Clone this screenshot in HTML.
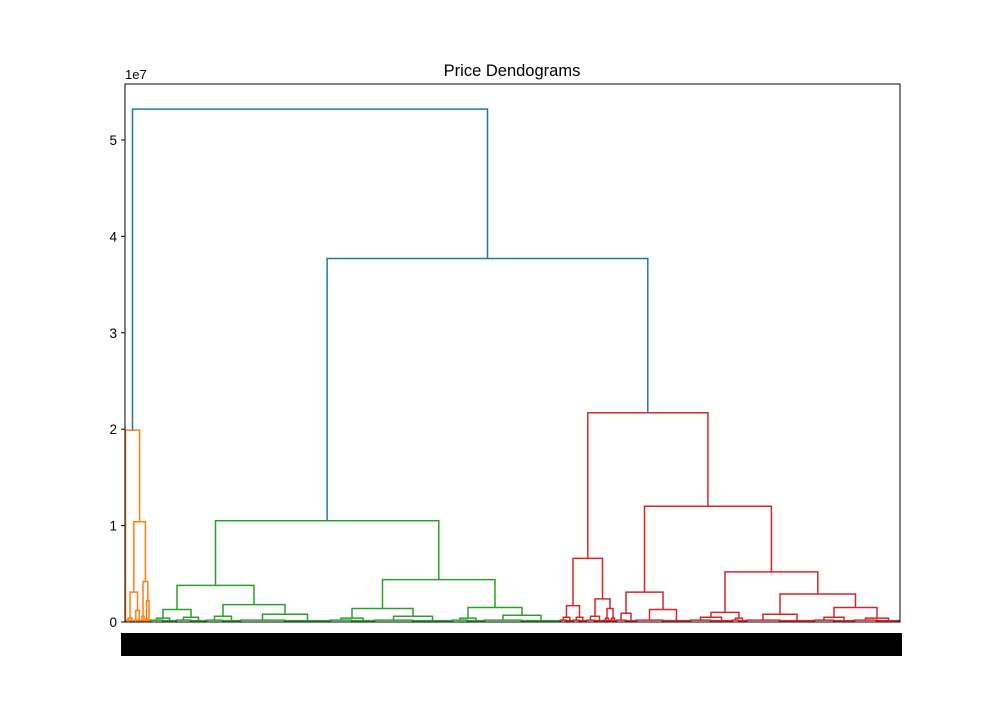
<!DOCTYPE html>
<html><head><meta charset="utf-8"><style>
body{margin:0;background:#fff}
svg text{font-family:"Liberation Sans",sans-serif}
</style></head><body>
<svg id="chart" width="1000" height="700" xmlns="http://www.w3.org/2000/svg">
<rect width="1000" height="700" fill="#fff"/>
<text x="512" y="76" text-anchor="middle" font-size="16.5">Price Dendograms</text>
<text x="125" y="79" font-size="13">1e7</text>
<g id="links"></g>
<rect x="121" y="633" width="781" height="23" fill="#000"/>
<g id="axes"></g>
</svg>
<script>
// Tree data: [height(1e7), left, right] for merges; [height, leafCount] for small leaf groups
const orangeTree=[1.99,[0.0,1],[1.04,[0.31,[0.04,8],[0.12,7]],[0.42,[0.06,4],[0.22,[0.03,3],[0.02,2]]]]];
const greenTree=[1.05,
 [0.38,[0.13,[0.04,26],[0.05,30]],[0.18,[0.06,34],[0.08,90]]],
 [0.44,[0.14,[0.04,44],[0.06,78]],[0.15,[0.04,32],[0.07,76]]]];
const redTree=[2.17,
 [0.66,[0.17,[0.05,13],[0.05,13]],[0.24,[0.06,18],[0.14,[0.04,6],[0.04,6]]]],
 [1.2,[0.31,[0.09,20],[0.13,54]],
  [0.52,[0.10,[0.05,42],[0.04,14]],[0.29,[0.08,68],[0.15,[0.05,40],[0.04,46]]]]]];
const midHeight=3.77, rootHeight=5.32;
const yTicks=[0,1,2,3,4,5];
const clusterColors=['#ff7f0e','#2ca02c','#d62728'];

const NS='http://www.w3.org/2000/svg';
const X0=125,X1=900,Y0=622,YTOP=84,HMAX=5.58;
const totalLeaves=775;
const xs=i=>X0+i*(X1-X0)/totalLeaves;
const ys=h=>Y0-(Y0-YTOP)*h/HMAX;
const links=document.getElementById('links');
function seg(pts,color,name){
  const p=document.createElementNS(NS,'polyline');
  p.setAttribute('points',pts.map(q=>q[0].toFixed(1)+','+q[1].toFixed(1)).join(' '));
  p.setAttribute('fill','none');p.setAttribute('stroke',color);p.setAttribute('stroke-width','1.5');
  
  
  links.appendChild(p);
}
let cursor=0;
function draw(node,color){
  if(node.length===2){
    const n=node[1],start=cursor;cursor+=n;
    if(n===1) return {x:start+0.5,h:0};
    const a=start+n*0.25,b=start+n*0.75;
    seg([[xs(start+0.5),ys(0)],[xs(start+0.5),ys(0.02)],[xs(start+n/2-0.5),ys(0.02)],[xs(start+n/2-0.5),ys(0)]],color,'leaf-link');
    seg([[xs(start+n/2+0.5),ys(0)],[xs(start+n/2+0.5),ys(0.015)],[xs(start+n-0.5),ys(0.015)],[xs(start+n-0.5),ys(0)]],color,'leaf-link');
    seg([[xs(a),ys(0.02)],[xs(a),ys(node[0])],[xs(b),ys(node[0])],[xs(b),ys(0.015)]],color,'leaf-link');
    return {x:(a+b)/2,h:node[0]};
  }
  const L=draw(node[1],color),R=draw(node[2],color);
  seg([[xs(L.x),ys(L.h)],[xs(L.x),ys(node[0])],[xs(R.x),ys(node[0])],[xs(R.x),ys(R.h)]],color,'cluster-link');
  return {x:(L.x+R.x)/2,h:node[0]};
}
const o=draw(orangeTree,clusterColors[0]);
const g=draw(greenTree,clusterColors[1]);
const r=draw(redTree,clusterColors[2]);
const blue='#1f77b4';
seg([[xs(g.x),ys(g.h)],[xs(g.x),ys(midHeight)],[xs(r.x),ys(midHeight)],[xs(r.x),ys(r.h)]],blue,'mid-link');
const mx=(g.x+r.x)/2;
seg([[xs(o.x),ys(o.h)],[xs(o.x),ys(rootHeight)],[xs(mx),ys(rootHeight)],[xs(mx),ys(midHeight)]],blue,'root-link');

const axes=document.getElementById('axes');
const fr=document.createElementNS(NS,'rect');
fr.setAttribute('x',X0);fr.setAttribute('y',YTOP);fr.setAttribute('width',X1-X0);fr.setAttribute('height',Y0-YTOP);
fr.setAttribute('fill','none');fr.setAttribute('stroke','#000');fr.setAttribute('stroke-width','1');


axes.appendChild(fr);
yTicks.forEach(t=>{
  const y=ys(t);
  const l=document.createElementNS(NS,'line');
  l.setAttribute('x1',X0-4);l.setAttribute('x2',X0);l.setAttribute('y1',y);l.setAttribute('y2',y);l.setAttribute('stroke','#000');
  
  
  axes.appendChild(l);
  const tx=document.createElementNS(NS,'text');
  tx.setAttribute('x',X0-8);tx.setAttribute('y',y+5);tx.setAttribute('text-anchor','end');tx.setAttribute('font-size','13.5');
  tx.textContent=t;
  
  
  axes.appendChild(tx);
});
</script>
</body></html>
